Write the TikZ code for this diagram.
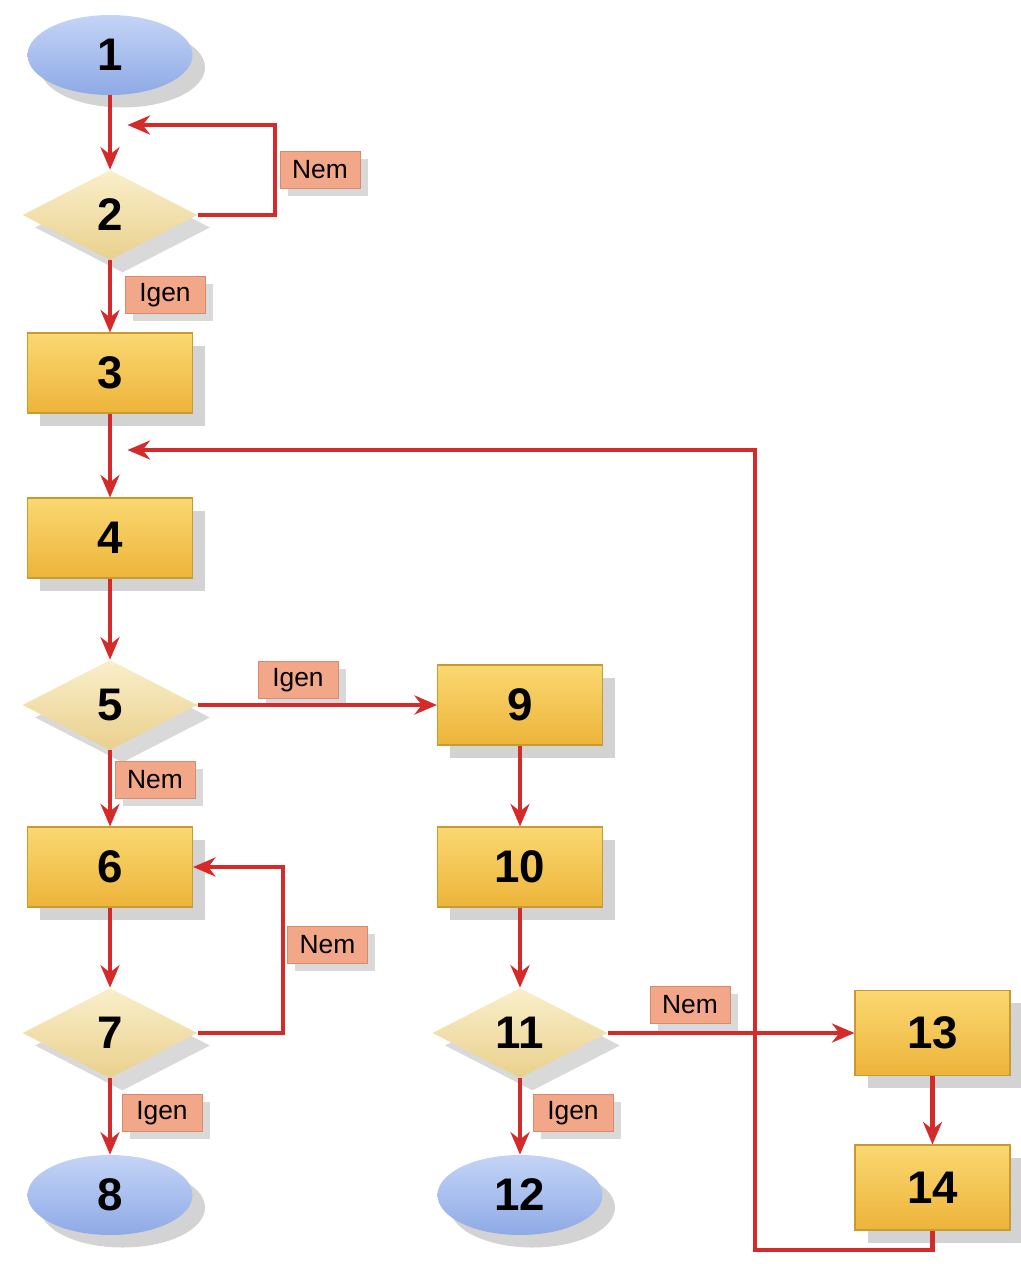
\documentclass[tikz,border=0pt]{standalone}
\usepackage{fontspec}
\setmainfont{Liberation Sans}
\usepackage{tikz}
\usetikzlibrary{arrows.meta,shapes.geometric,shadows,positioning}
\definecolor{flowred}{HTML}{D42A2A}
\definecolor{tagfill}{HTML}{F2A888}
\definecolor{tagedge}{HTML}{D98A6C}
\definecolor{endtop}{HTML}{C4D4F6}
\definecolor{endbot}{HTML}{8EAAE6}
\definecolor{dectop}{HTML}{FAEFCB}
\definecolor{decbot}{HTML}{E9D08C}
\definecolor{tasktop}{HTML}{FAD872}
\definecolor{taskbot}{HTML}{EDB43A}
\definecolor{taskedge}{HTML}{C99A2E}

\begin{document}
\begin{tikzpicture}[
endpoint/.style={ellipse, draw=none, top color=endtop, bottom color=endbot, minimum width=33mm, minimum height=16mm, font=\fontsize{26}{26}\selectfont\bfseries, drop shadow={shadow xshift=2.5mm, shadow yshift=-2.5mm, opacity=.35}},
decision/.style={diamond, aspect=2, inner sep=0pt, draw=none, top color=dectop, bottom color=decbot, minimum width=35mm, minimum height=18mm, font=\fontsize{26}{26}\selectfont\bfseries, drop shadow={shadow xshift=2.5mm, shadow yshift=-2.5mm, opacity=.3}},
task/.style={rectangle, draw=taskedge, line width=0.6pt, top color=tasktop, bottom color=taskbot, minimum width=33mm, minimum height=16mm, font=\fontsize{26}{26}\selectfont\bfseries, drop shadow={shadow xshift=2.5mm, shadow yshift=-2.5mm, opacity=.35}},
tag/.style={rectangle, draw=tagedge, fill=tagfill, minimum width=16mm, minimum height=7.5mm, inner sep=1pt, font=\fontsize{15}{15}\selectfont, drop shadow={shadow xshift=1.5mm, shadow yshift=-1.5mm, opacity=.3}},
flow/.style={-{Stealth[length=4.5mm,width=3.8mm]}, line width=2.6pt, draw=flowred}
]
\useasboundingbox (0,0) rectangle (20.42,-25.28);
% left column
\node[endpoint] (n1) at (2.2,-1.1) {1};
\node[decision] (n2) at (2.2,-4.3) {2};
\node[task] (n3) at (2.2,-7.46) {3};
\node[task] (n4) at (2.2,-10.76) {4};
\node[decision] (n5) at (2.2,-14.1) {5};
\node[task] (n6) at (2.2,-17.34) {6};
\node[decision] (n7) at (2.2,-20.66) {7};
\node[endpoint] (n8) at (2.2,-23.9) {8};
% middle column
\node[task] (n9) at (10.4,-14.1) {9};
\node[task] (n10) at (10.4,-17.34) {10};
\node[decision] (n11) at (10.4,-20.66) {11};
\node[endpoint] (n12) at (10.4,-23.9) {12};
% right column
\node[task, minimum width=31mm, minimum height=17mm] (n13) at (18.65,-20.66) {13};
\node[task, minimum width=31mm, minimum height=17mm] (n14) at (18.65,-23.75) {14};
% bends
\coordinate (loop2) at (5.5,-2.5);
\coordinate (join2) at (2.55,-2.5);
\coordinate (loop7) at (5.66,-17.34);
\coordinate (down14) at (15.1,-25.0);
\coordinate (back14) at (15.1,-9.0);
\coordinate (join4) at (2.55,-9.0);
% labels
\node[tag] (nem2) at (6.4,-3.4) {Nem};
\node[tag] (igen2) at (3.3,-5.9) {Igen};
\node[tag] (igen5) at (5.96,-13.6) {Igen};
\node[tag] (nem5) at (3.1,-15.6) {Nem};
\node[tag] (nem7) at (6.55,-18.9) {Nem};
\node[tag] (igen7) at (3.24,-22.26) {Igen};
\node[tag] (nem11) at (13.8,-20.1) {Nem};
\node[tag] (igen11) at (11.46,-22.26) {Igen};
% connectors
\draw[flow] (n1) -- (n2);
\draw[flow] (n2.east) -| (loop2) -- (join2);
\draw[flow] (n2) -- (n3);
\draw[flow] (n3) -- (n4);
\draw[flow] (n4) -- (n5);
\draw[flow] (n5) -- (n9);
\draw[flow] (n5) -- (n6);
\draw[flow] (n6) -- (n7);
\draw[flow] (n7.east) -| (loop7) -- (n6.east);
\draw[flow] (n7) -- (n8);
\draw[flow] (n9) -- (n10);
\draw[flow] (n10) -- (n11);
\draw[flow] (n11) -- (n12);
\draw[flow] (n11) -- (n13);
\draw[flow] (n13) -- (n14);
\draw[flow] (n14.south) |- (down14) -- (back14) -- (join4);
\end{tikzpicture}
\end{document}
